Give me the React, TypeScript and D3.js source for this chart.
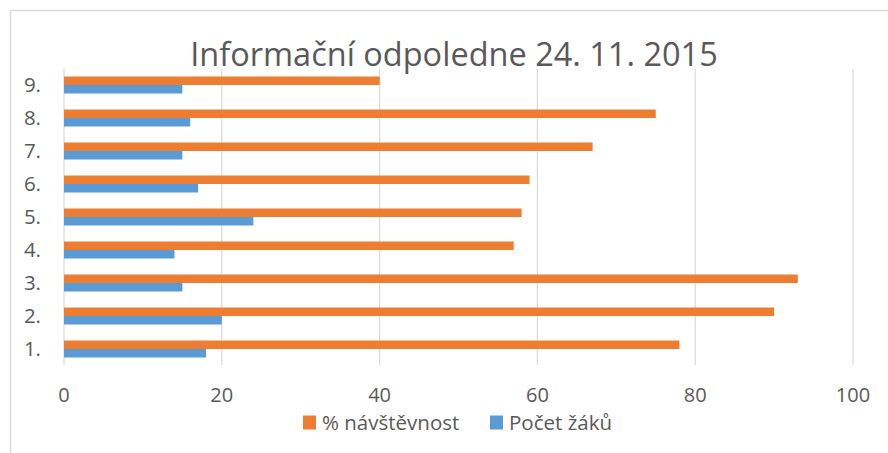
import React from "react";
import * as d3 from "d3";

const categories = ["1.", "2.", "3.", "4.", "5.", "6.", "7.", "8.", "9."];
const navstevnost = [78, 90, 93, 57, 58, 59, 67, 75, 40];
const pocetZaku = [18, 20, 15, 14, 24, 17, 15, 16, 15];
const xTicks = [0, 20, 40, 60, 80, 100];
const seriesNames = ["% návštěvnost", "Počet žáků"];
const seriesColors = ["#ED7D31", "#5B9BD5"];
const title = "Informační odpoledne 24. 11. 2015";

const W = 888;
const H = 453;
const FONT = "'Open Sans', sans-serif";
const TEXT = "#595959";

export default function App() {
  const x = d3.scaleLinear().domain([0, 100]).range([64, 853]);
  // category 9 on top
  const y = d3
    .scaleBand<string>()
    .domain([...categories].reverse())
    .range([68.5, 365.5])
    .paddingInner(0.485)
    .paddingOuter(0.2425);
  const inner = d3.scaleBand<number>().domain([0, 1]).range([0, y.bandwidth()]);
  const series = [navstevnost, pocetZaku];

  return (
    <svg
      width={W}
      height={H}
      style={{ position: "absolute", left: 0, top: 0, background: "#fff" }}
    >
      <rect x={10.5} y={10.5} width={W + 20} height={H + 20} fill="#fff" stroke="#d9d9d9" strokeWidth={1.5} />
      <text x={454} y={66} textAnchor="middle" fontFamily={FONT} fontSize={32.5} fill={TEXT}>
        {title}
      </text>
      {xTicks.map((t) => (
        <line key={t} x1={x(t)} x2={x(t)} y1={69} y2={365} stroke="#d9d9d9" strokeWidth={1.2} />
      ))}
      {series.map((vals, si) =>
        categories.map((c, i) => (
          <rect
            key={si + "-" + c}
            x={x(0)}
            y={(y(c) as number) + (inner(si) as number)}
            width={x(vals[i]) - x(0)}
            height={inner.bandwidth()}
            fill={seriesColors[si]}
          />
        ))
      )}
      {categories.map((c) => (
        <text
          key={c}
          x={41}
          y={(y(c) as number) + y.bandwidth() / 2}
          dy="0.36em"
          textAnchor="end"
          fontFamily={FONT}
          fontSize={20.5}
          fill={TEXT}
        >
          {c}
        </text>
      ))}
      {xTicks.map((t) => (
        <text key={t} x={x(t)} y={402} textAnchor="middle" fontFamily={FONT} fontSize={20} fill={TEXT}>
          {t}
        </text>
      ))}
      {[
        { sx: 303, tx: 322 },
        { sx: 490, tx: 509 },
      ].map((p, i) => (
        <g key={i}>
          <rect x={p.sx} y={415.5} width={13} height={14} fill={seriesColors[i]} />
          <text x={p.tx} y={430} fontFamily={FONT} fontSize={20.5} fill={TEXT}>
            {seriesNames[i]}
          </text>
        </g>
      ))}
    </svg>
  );
}
